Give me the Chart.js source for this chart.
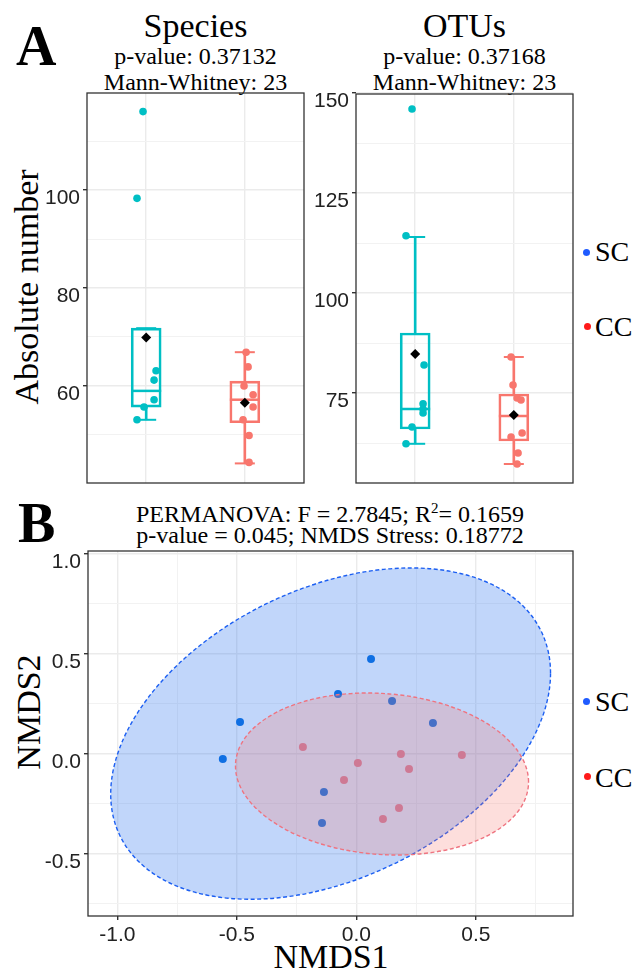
<!DOCTYPE html>
<html>
<head>
<meta charset="utf-8">
<script src="https://cdn.jsdelivr.net/npm/chart.js@4.4.1/dist/chart.umd.min.js"></script>
<style>
  body { margin: 0; background: #fff; width: 636px; height: 972px; position: relative; overflow: hidden;
         font-family: "Liberation Serif", "Times New Roman", serif; color: #000; }
  canvas { position: absolute; }
  .t { position: absolute; text-align: center; white-space: nowrap; }
  .letter { position: absolute; font-weight: bold; font-size: 56px; line-height: 56px; }
  .title { font-size: 34px; line-height: 34px; width: 200px; }
  .sub { font-size: 24px; line-height: 24px; width: 200px; }
  .btitle { font-size: 24px; line-height: 24px; width: 500px; }
  .btitle sup { font-size: 15px; line-height: 0; vertical-align: 9px; }
  .axis { font-size: 34px; line-height: 34px; width: 300px; height: 34px; }
  .rot { transform: rotate(-90deg); }
  .leg { position: absolute; font-size: 28px; line-height: 28px; white-space: nowrap; }
  .dot { position: absolute; width: 7px; height: 7px; border-radius: 50%; }
</style>
</head>
<body>

<div class="letter" style="left:16px;top:18px">A</div>
<div class="letter" style="left:18px;top:495px">B</div>

<div class="t title" style="left:95.5px;top:8.5px">Species</div>
<div class="t sub" style="left:95.5px;top:44px">p-value: 0.37132</div>
<div class="t sub" style="left:95.5px;top:69.5px">Mann-Whitney: 23</div>

<div class="t title" style="left:364.5px;top:8.5px">OTUs</div>
<div class="t sub" style="left:364.5px;top:44px">p-value: 0.37168</div>
<div class="t sub" style="left:364.5px;top:69.5px">Mann-Whitney: 23</div>

<div class="t axis rot" style="left:-123.5px;top:270px">Absolute number</div>

<div class="dot" style="left:582.5px;top:248.5px;background:#1f5bff"></div>
<div class="leg" style="left:595px;top:237.5px">SC</div>
<div class="dot" style="left:583.5px;top:322.5px;background:#ff1a1a"></div>
<div class="leg" style="left:595px;top:312.5px">CC</div>

<div class="t btitle" style="left:80px;top:502px">PERMANOVA: F = 2.7845; R<sup>2</sup>= 0.1659</div>
<div class="t btitle" style="left:80px;top:523px">p-value = 0.045; NMDS Stress: 0.18772</div>

<div class="t axis rot" style="left:-121.5px;top:695px">NMDS2</div>
<div class="t axis" style="left:181px;top:939.5px">NMDS1</div>

<div class="dot" style="left:582.5px;top:697.5px;background:#1f5bff"></div>
<div class="leg" style="left:595px;top:687.5px">SC</div>
<div class="dot" style="left:583.5px;top:772.5px;background:#ff1a1a"></div>
<div class="leg" style="left:595px;top:763.5px">CC</div>

<canvas id="species" width="263" height="394" style="left:43px;top:91px"></canvas>
<canvas id="otus" width="263" height="393" style="left:312px;top:92px"></canvas>
<canvas id="nmds" width="531" height="397" style="left:44px;top:549px"></canvas>

<script>
// groups: SC at x = 1, CC at x = 2
const groupPos = [1, 2];
const boxColors = ['#00bfc4', '#f8766d'];

// Species, jittered points
const speciesScX = [0.968, 0.907, 1.10, 1.08, 1.08, 0.978, 0.907];
const speciesScY = [116.0, 98.3, 63.1, 61.2, 57.2, 55.7, 53.1];
const speciesCcX = [2.013, 2.033, 1.992, 2.084, 2.084, 1.982, 2.043, 2.043];
const speciesCcY = [66.9, 63.9, 60.0, 58.2, 55.7, 53.1, 49.9, 44.4];
// Species box stats [SC, CC]
const speciesLow = [53.1, 44.2];
const speciesQ1 = [55.7, 52.5];
const speciesMedian = [59.0, 57.2];
const speciesQ3 = [71.8, 61.0];
const speciesHigh = [71.8, 66.9];
const speciesMean = [69.9, 56.6];
const speciesTicks = [50, 60, 70, 80, 90, 100, 110];
const speciesLabels = [60, 80, 100];

// OTUs, jittered points
const otuScX = [0.968, 0.907, 1.09, 1.08, 1.08, 1.08, 0.968, 0.907];
const otuScY = [146.0, 114.3, 82.0, 72.3, 71.0, 70.0, 66.5, 62.3];
const otuCcX = [1.972, 1.992, 2.033, 2.073, 1.972, 2.084, 2.043, 2.033];
const otuCcY = [84.0, 77.0, 73.75, 73.25, 64.0, 65.0, 60.0, 57.25];
// OTU box stats [SC, CC]
const otuLow = [62.3, 57.25];
const otuQ1 = [66.0, 63.0];
const otuMedian = [71.0, 69.25];
const otuQ3 = [90.0, 74.75];
const otuHigh = [114.0, 84.0];
const otuMean = [84.75, 69.5];
const otuTicks = [62.5, 75, 87.5, 100, 112.5, 125, 137.5, 150];
const otuLabels = [75, 100, 125, 150];

// NMDS
const nmdsScX = [-0.487, -0.559, 0.061, -0.077, 0.149, 0.320, -0.136, -0.144];
const nmdsScY = [0.160, -0.025, 0.475, 0.300, 0.265, 0.155, -0.190, -0.345];
const nmdsCcX = [-0.224, 0.006, 0.186, 0.441, 0.220, -0.052, 0.178, 0.111];
const nmdsCcY = [0.035, -0.045, 0.000, -0.005, -0.075, -0.130, -0.270, -0.325];
// ellipses [SC, CC]: centre and spread
const ellipseCx = [-0.108, 0.107];
const ellipseCy = [0.102, -0.100];
const ellipseSxx = [0.8464, 0.3758];
const ellipseSxy = [0.278, -0.0245];
const ellipseSyy = [0.686, 0.164];
const ellipseFill = ['rgba(51,119,240,0.30)', 'rgba(248,118,109,0.24)'];
const ellipseStroke = ['#1c5ff2', '#ef7480'];
const nmdsXTicks = [-1, -0.75, -0.5, -0.25, 0, 0.25, 0.5, 0.75];
const nmdsXLabels = [-1, -0.5, 0, 0.5];
const nmdsYTicks = [-0.75, -0.5, -0.25, 0, 0.25, 0.5, 0.75, 1];
const nmdsYLabels = [-0.5, 0, 0.5, 1];

const tickFont = { family: '"Liberation Sans", Arial, sans-serif', size: 21 };

// no extra room for labels: the plot box stays where the canvas puts it
function noPad(s) {
  s.paddingLeft = 0; s.paddingRight = 0; s.paddingTop = 0; s.paddingBottom = 0;
}

const framePlugin = {
  id: 'frame',
  afterDraw(chart) {
    const { ctx, chartArea: a } = chart;
    ctx.save();
    ctx.strokeStyle = '#333';
    ctx.lineWidth = 1.3;
    ctx.strokeRect(a.left, a.top, a.right - a.left, a.bottom - a.top);
    ctx.restore();
  }
};

function yAxis(min, max, ticks, labels, fmt) {
  return {
    type: 'linear', min: min, max: max,
    afterFit: s => { s.width = 44; noPad(s); },
    afterBuildTicks: s => { s.ticks = ticks.map(v => ({ value: v })); },
    border: { display: false },
    grid: {
      color: c => labels.includes(c.tick.value) ? '#ebebeb' : '#f2f2f2',
      lineWidth: c => labels.includes(c.tick.value) ? 1.4 : 1,
      tickColor: c => labels.includes(c.tick.value) ? '#333' : 'rgba(0,0,0,0)',
      tickLength: 4, drawTicks: true
    },
    ticks: {
      autoSkip: false, padding: 3, labelOffset: 8, color: '#222', font: tickFont,
      callback: v => labels.includes(v) ? fmt(v) : ''
    }
  };
}

function boxChart(id, s) {
  const pts = (xs, ys) => xs.map((x, i) => ({ x: x, y: ys[i] }));
  const at = vals => vals.map((v, i) => ({ x: groupPos[i], y: v }));
  const span = (a, b) => a.map((v, i) => ({ x: groupPos[i], y: [v, b[i]] }));
  new Chart(document.getElementById(id), {
    type: 'scatter',
    data: {
      datasets: [
        { type: 'scatter', data: at(s.mean), pointStyle: 'rectRot', pointRadius: 5,
          backgroundColor: '#000', borderWidth: 0 },
        { type: 'scatter', data: pts(s.scX, s.scY), pointRadius: 3.8,
          backgroundColor: boxColors[0], borderWidth: 0 },
        { type: 'scatter', data: pts(s.ccX, s.ccY), pointRadius: 3.8,
          backgroundColor: boxColors[1], borderWidth: 0 },
        { type: 'scatter', data: at(s.median), pointStyle: 'line', pointRadius: 15,
          borderColor: boxColors, borderWidth: 2.5 },
        { type: 'scatter', data: at(s.low).concat(at(s.high)), pointStyle: 'line', pointRadius: 10,
          borderColor: boxColors.concat(boxColors), borderWidth: 2 },
        { type: 'bar', data: span(s.q1, s.q3), backgroundColor: 'rgba(0,0,0,0)',
          borderColor: boxColors, borderWidth: 2, borderSkipped: false, barThickness: 30, grouped: false },
        { type: 'bar', data: span(s.low, s.q1), backgroundColor: boxColors, barThickness: 2, grouped: false },
        { type: 'bar', data: span(s.q3, s.high), backgroundColor: boxColors, barThickness: 2, grouped: false }
      ]
    },
    options: {
      responsive: false, animation: false, events: [],
      layout: { autoPadding: false, padding: { top: 2, right: 2, bottom: 2, left: 0 } },
      plugins: { legend: { display: false }, tooltip: { enabled: false } },
      scales: {
        x: {
          type: 'linear', min: 0.4, max: 2.6, offset: false,
          afterFit: sc => { sc.height = 0; noPad(sc); },
          afterBuildTicks: sc => { sc.ticks = groupPos.map(v => ({ value: v })); },
          border: { display: false },
          grid: { color: '#ebebeb', lineWidth: 1.4, drawTicks: false, offset: false },
          ticks: { display: false }
        },
        y: yAxis(s.min, s.max, s.ticks, s.labels, v => String(v))
      }
    },
    plugins: [framePlugin]
  });
}

boxChart('species', {
  scX: speciesScX, scY: speciesScY, ccX: speciesCcX, ccY: speciesCcY,
  low: speciesLow, q1: speciesQ1, median: speciesMedian, q3: speciesQ3, high: speciesHigh, mean: speciesMean,
  min: 40.2, max: 119.8, ticks: speciesTicks, labels: speciesLabels
});
boxChart('otus', {
  scX: otuScX, scY: otuScY, ccX: otuCcX, ccY: otuCcY,
  low: otuLow, q1: otuQ1, median: otuMedian, q3: otuQ3, high: otuHigh, mean: otuMean,
  min: 52.5, max: 149.75, ticks: otuTicks, labels: otuLabels
});

// ellipses drawn over the points, through the chart scales
const ellipsePlugin = {
  id: 'ellipses',
  afterDatasetsDraw(chart) {
    const { ctx, chartArea: a, scales: { x, y } } = chart;
    ctx.save();
    ctx.beginPath();
    ctx.rect(a.left, a.top, a.right - a.left, a.bottom - a.top);
    ctx.clip();
    ellipseCx.forEach((cx, i) => {
      const cy = ellipseCy[i];
      const hx = Math.sqrt(ellipseSxx[i]);
      const uy = ellipseSxy[i] / hx;
      const vy = Math.sqrt(ellipseSyy[i] - uy * uy);
      const px = x.getPixelForValue(cx), py = y.getPixelForValue(cy);
      const ux = x.getPixelForValue(cx + hx) - px, uyp = y.getPixelForValue(cy + uy) - py;
      const vyp = y.getPixelForValue(cy + vy) - py;
      ctx.save();
      ctx.transform(ux, uyp, 0, vyp, px, py);
      ctx.beginPath();
      ctx.arc(0, 0, 1, 0, Math.PI * 2);
      ctx.restore();
      ctx.fillStyle = ellipseFill[i];
      ctx.fill();
      ctx.setLineDash([4, 2.5]);
      ctx.strokeStyle = ellipseStroke[i];
      ctx.lineWidth = 1.4;
      ctx.stroke();
    });
    ctx.restore();
  }
};

new Chart(document.getElementById('nmds'), {
  type: 'scatter',
  data: {
    datasets: [
      { data: nmdsScX.map((v, i) => ({ x: v, y: nmdsScY[i] })), pointRadius: 4,
        backgroundColor: '#006cde', borderWidth: 0 },
      { data: nmdsCcX.map((v, i) => ({ x: v, y: nmdsCcY[i] })), pointRadius: 4,
        backgroundColor: '#ff7d80', borderWidth: 0 }
    ]
  },
  options: {
    responsive: false, animation: false, events: [],
    layout: { autoPadding: false, padding: { top: 2, right: 2, bottom: 0, left: 0 } },
    plugins: { legend: { display: false }, tooltip: { enabled: false } },
    scales: {
      x: {
        type: 'linear', min: -1.123, max: 0.906,
        afterFit: s => { s.height = 30; noPad(s); },
        afterBuildTicks: s => { s.ticks = nmdsXTicks.map(v => ({ value: v })); },
        border: { display: false },
        grid: {
          color: c => nmdsXLabels.includes(c.tick.value) ? '#ebebeb' : '#f2f2f2',
          lineWidth: c => nmdsXLabels.includes(c.tick.value) ? 1.4 : 1,
          tickColor: c => nmdsXLabels.includes(c.tick.value) ? '#333' : 'rgba(0,0,0,0)',
          tickLength: 4
        },
        ticks: {
          autoSkip: false, maxRotation: 0, padding: 3, color: '#222', font: tickFont,
          callback: v => nmdsXLabels.includes(v) ? v.toFixed(1) : ''
        }
      },
      y: yAxis(-0.81, 1.015, nmdsYTicks, nmdsYLabels, v => v.toFixed(1))
    }
  },
  plugins: [ellipsePlugin, framePlugin]
});
</script>
</body>
</html>
